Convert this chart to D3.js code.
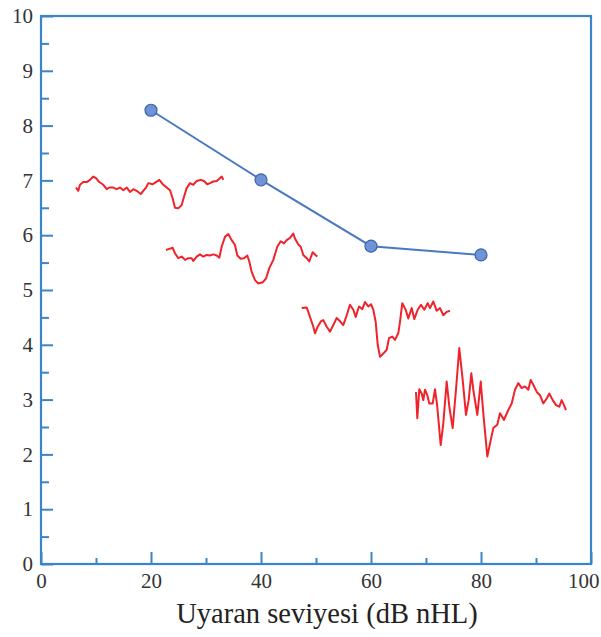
<!DOCTYPE html>
<html>
<head>
<meta charset="utf-8">
<script src="https://cdn.jsdelivr.net/npm/d3@7"></script>
<style>
  html, body { margin: 0; padding: 0; background: #fff; }
  svg { display: block; }
</style>
</head>
<body>
<svg id="chart" width="601" height="637"></svg>
<script>
// Stimulus levels (dB nHL) and the measured values on the blue line
const levels = [20, 40, 60, 80];
const levelValues = [8.28, 7.01, 5.80, 5.64];

// Axis ticks
const xMajorTicks = [0, 20, 40, 60, 80, 100];
const xMinorTicks = [10, 30, 50, 70, 90];
const yMajorTicks = [0, 1, 2, 3, 4, 5, 6, 7, 8, 9, 10];
const yMinorTicks = [0.5, 1.5, 2.5, 3.5, 4.5, 5.5, 6.5, 7.5, 8.5, 9.5];

const xTitle = "Uyaran seviyesi (dB nHL)";

// Response waveforms, one per stimulus level, as [x, y] in axis units
const wave20 = [
  [6.36,6.87],[6.78,6.81],[7.09,6.92],[7.69,6.97],[8.31,6.97],[8.91,7.01],[9.51,7.07],[10.0,7.04],
  [10.6,6.97],[11.33,6.92],[11.95,6.84],[12.42,6.87],[13.15,6.87],[13.76,6.84],[14.36,6.87],[14.96,6.82],
  [15.58,6.87],[16.18,6.79],[16.78,6.84],[17.4,6.81],[18.13,6.75],[18.6,6.81],[19.09,6.87],[19.51,6.95],
  [20.31,6.93],[20.91,6.97],[21.51,7.01],[22.13,6.93],[22.85,6.87],[23.45,6.82],[23.95,6.67],[24.36,6.50],
  [24.96,6.49],[25.58,6.55],[26.0,6.70],[26.49,6.86],[27.09,6.95],[27.69,6.92],[28.31,6.99],[29.04,7.01],
  [29.64,6.99],[30.24,6.93],[30.73,6.95],[31.33,6.98],[31.95,6.99],[32.42,7.03],[32.85,7.07],[33.15,7.01]
];
const wave40 = [
  [22.73,5.73],[23.33,5.75],[23.95,5.77],[24.36,5.67],[24.96,5.58],[25.58,5.61],[26.18,5.55],[26.78,5.58],
  [27.4,5.58],[27.69,5.53],[28.31,5.61],[28.91,5.65],[29.51,5.61],[30.13,5.64],[30.73,5.63],[31.33,5.65],
  [31.95,5.63],[32.42,5.59],[32.85,5.79],[33.45,5.97],[34.05,6.02],[34.67,5.91],[35.27,5.82],[35.69,5.63],
  [36.31,5.57],[36.91,5.58],[37.51,5.63],[37.87,5.52],[38.31,5.33],[38.91,5.18],[39.51,5.12],[40.31,5.14],
  [40.91,5.21],[41.51,5.40],[42.24,5.55],[42.96,5.79],[43.58,5.89],[44.18,5.85],[44.67,5.91],[45.27,5.95],
  [45.87,6.03],[46.18,5.94],[46.78,5.83],[47.22,5.79],[47.69,5.64],[48.31,5.58],[48.78,5.52],[49.4,5.69],
  [50.0,5.63],[50.24,5.61]
];
const wave60 = [
  [47.4,4.67],[48.31,4.68],[48.91,4.51],[49.51,4.33],[49.82,4.21],[50.31,4.33],[50.91,4.43],[51.33,4.45],
  [51.95,4.33],[52.55,4.24],[53.15,4.36],[53.76,4.49],[54.36,4.43],[54.96,4.36],[55.58,4.54],[56.18,4.73],
  [56.78,4.64],[57.22,4.51],[57.82,4.70],[58.42,4.65],[58.91,4.78],[59.51,4.70],[60.0,4.74],[60.42,4.64],
  [60.85,4.42],[61.22,4.00],[61.64,3.78],[62.24,3.84],[62.85,3.91],[63.27,4.12],[63.87,4.15],[64.36,4.09],
  [64.96,4.21],[65.27,4.42],[65.69,4.76],[66.31,4.64],[66.78,4.48],[67.4,4.67],[67.87,4.47],[68.49,4.64],
  [69.09,4.73],[69.69,4.64],[70.31,4.76],[70.73,4.67],[71.33,4.79],[71.95,4.62],[72.55,4.67],[73.15,4.54],
  [73.76,4.60],[74.36,4.62]
];
const wave80 = [
  [68.18,3.14],[68.42,2.66],[68.78,3.19],[69.22,3.11],[69.51,2.99],[69.82,3.18],[70.24,3.08],[70.6,2.93],
  [71.22,2.93],[71.64,3.19],[72.05,2.87],[72.67,2.17],[73.15,2.57],[73.76,3.33],[74.24,2.87],[74.85,2.48],
  [75.45,3.18],[76.05,3.94],[76.67,3.36],[77.27,2.72],[77.76,2.99],[78.24,3.48],[78.6,3.18],[79.33,2.72],
  [79.95,3.33],[80.42,2.75],[81.15,1.96],[81.64,2.20],[82.24,2.48],[82.96,2.54],[83.45,2.75],[84.18,2.63],
  [84.96,2.81],[85.58,2.93],[86.18,3.18],[86.78,3.30],[87.4,3.21],[88.0,3.24],[88.6,3.18],[89.04,3.36],
  [89.51,3.27],[90.13,3.14],[90.73,3.08],[91.33,2.93],[91.95,3.02],[92.42,3.11],[93.04,2.99],[93.64,2.90],
  [94.24,2.87],[94.67,2.99],[95.09,2.90],[95.45,2.81]
];
const waves = [wave20, wave40, wave60, wave80];

const axisColor = "#3a85c9";
const waveColor = "#f0222a";
const lineColor = "#4a78c2";
const fontStack = "'Liberation Serif', 'Times New Roman', Times, 'DejaVu Serif', serif";

const margin = { left: 41, top: 16 };
const innerW = 591 - margin.left;
const innerH = 564 - margin.top;

const svg = d3.select("#chart");
const g = svg.append("g").attr("transform", `translate(${margin.left},${margin.top})`);

const x = d3.scaleLinear().domain([0, 100]).range([0, innerW]);
const y = d3.scaleLinear().domain([0, 10]).range([innerH, 0]);

// Inward-pointing ticks, majors labelled
function styleAxis(sel) {
  sel.attr("font-family", fontStack).attr("font-size", 21);
  sel.select(".domain").remove();
  sel.selectAll(".tick line").attr("stroke", axisColor).attr("stroke-width", 2);
  sel.selectAll(".tick text").attr("fill", "#333");
}

const xAxisG = g.append("g")
  .attr("transform", `translate(0,${innerH})`)
  .call(d3.axisBottom(x).tickValues(xMajorTicks).tickSize(-12).tickPadding(9).tickFormat(d3.format("d")))
  .call(styleAxis);
// keep the last label inside the page edge
xAxisG.selectAll(".tick text")
  .filter(d => d === 100)
  .attr("text-anchor", "end")
  .attr("x", 8);

g.append("g")
  .attr("transform", `translate(0,${innerH})`)
  .call(d3.axisBottom(x).tickValues(xMinorTicks).tickSize(-6).tickFormat(""))
  .call(styleAxis);
g.append("g")
  .call(d3.axisLeft(y).tickValues(yMajorTicks).tickSize(-12).tickPadding(8).tickFormat(d3.format("d")))
  .call(styleAxis);
g.append("g")
  .call(d3.axisLeft(y).tickValues(yMinorTicks).tickSize(-8).tickFormat(""))
  .call(styleAxis);

// Plot frame
g.append("rect")
  .attr("x", 0).attr("y", 0)
  .attr("width", innerW).attr("height", innerH)
  .attr("fill", "none")
  .attr("stroke", axisColor)
  .attr("stroke-width", 2.2);

// Waveforms
const waveLine = d3.line().x(d => x(d[0])).y(d => y(d[1]));
g.selectAll("path.wave")
  .data(waves)
  .join("path")
  .attr("class", "wave")
  .attr("d", waveLine)
  .attr("fill", "none")
  .attr("stroke", waveColor)
  .attr("stroke-width", 2)
  .attr("stroke-linejoin", "round");

// Level line with markers
const pts = levels.map((l, i) => [l, levelValues[i]]);
g.append("path")
  .datum(pts)
  .attr("d", d3.line().x(d => x(d[0])).y(d => y(d[1])))
  .attr("fill", "none")
  .attr("stroke", lineColor)
  .attr("stroke-width", 2);
g.selectAll("circle.pt")
  .data(pts)
  .join("circle")
  .attr("class", "pt")
  .attr("cx", d => x(d[0]))
  .attr("cy", d => y(d[1]))
  .attr("r", 6)
  .attr("fill", "#6e93d6")
  .attr("stroke", "#3c64a8")
  .attr("stroke-width", 1.2);

// Axis title
svg.append("text")
  .attr("x", 327)
  .attr("y", 623)
  .attr("text-anchor", "middle")
  .attr("font-family", fontStack)
  .attr("font-size", 28.5)
  .attr("fill", "#222")
  .text(xTitle);
</script>
</body>
</html>
